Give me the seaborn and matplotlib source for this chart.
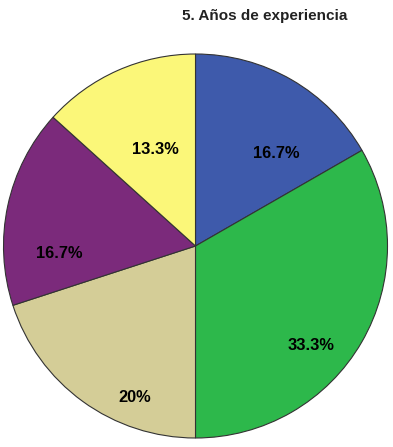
import matplotlib
matplotlib.use("Agg")
import matplotlib.pyplot as plt
import seaborn as sns

categories = ["A", "B", "C", "D", "E"]
values = [16.7, 33.3, 20.0, 16.7, 13.3]
pct_labels = ["16.7%", "33.3%", "20%", "16.7%", "13.3%"]
colors = ["#3e5aab", "#2db84b", "#d4cd97", "#7b2a7b", "#fbf779"]
title = "5. Años de experiencia"

sns.set_theme(style="white")
plt.rcParams['font.family'] = ['Liberation Sans', 'DejaVu Sans']
palette = sns.color_palette(colors)

W, H = 393, 447
fig = plt.figure(figsize=(W / 100, H / 100), dpi=100)
cx, cy, r = 195.5, 246, 192
ax = fig.add_axes([(cx - r) / W, (H - cy - r) / H, 2 * r / W, 2 * r / H])

wedges, texts = ax.pie(values, colors=palette, startangle=90, counterclock=False,
                       radius=1, wedgeprops=dict(edgecolor="#333333", linewidth=0.8))

# label positions (pixel coords in figure) relative to pie centre
label_px = [(276, 154), (311, 346), (135, 398), (59, 254), (155, 149)]
for lab, (px, py) in zip(pct_labels, label_px):
    ax.text((px - cx) / r, (cy - py) / r, lab, ha="center", va="center",
            fontsize=11.8, fontweight="bold", color="black")

ax.set_xlim(-1, 1)
ax.set_ylim(-1, 1)
ax.set_aspect("equal")
ax.axis("off")

fig.text(265 / W, 1 - 16 / H, title, ha="center", va="center",
         fontsize=11, fontweight="bold", color="#222222")

fig.savefig("out.png", dpi=100, facecolor="white")
